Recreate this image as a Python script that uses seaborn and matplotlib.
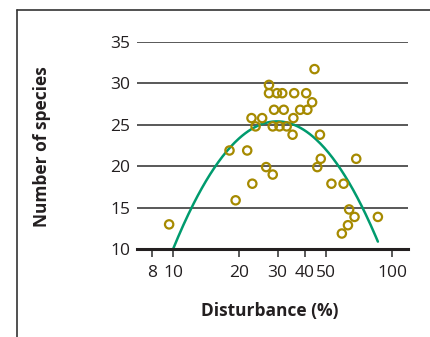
import numpy as np
import pandas as pd
import matplotlib
matplotlib.use("Agg")
import matplotlib.pyplot as plt
import seaborn as sns
from matplotlib.lines import Line2D

# ----------------------------------------------------------
# data
# ----------------------------------------------------------
disturbance = [9.6, 18.1, 19.3, 21.8, 22.8, 23.8, 23.0, 25.5, 26.6, 27.4,
               27.4, 28.5, 28.9, 28.5, 29.8, 30.6, 31.5, 32.0, 33.0, 35.1,
               35.4, 35.7, 38.0, 40.5, 41.0, 43.1, 44.2, 46.8, 45.5, 47.2,
               52.8, 60.0, 58.9, 62.8, 63.6, 67.3, 68.5, 86.0]
species = [13.0, 21.9, 15.9, 21.9, 25.8, 24.8, 17.9, 25.8, 19.9, 29.8,
           28.8, 19.0, 26.8, 24.8, 28.8, 24.8, 28.8, 26.8, 24.8, 23.8,
           25.8, 28.8, 26.8, 28.8, 26.8, 27.7, 31.7, 23.8, 19.9, 20.9,
           17.9, 17.9, 11.9, 12.9, 14.8, 13.9, 20.9, 13.9]

# quadratic fit in log10(disturbance): y = c2*L^2 + c1*L + c0
fit_coef = [-68.4, 201.70, -123.29]
fit_range = [10, 86]

x_ticks = [8, 10, 20, 30, 40, 50, 100]
y_ticks = [10, 15, 20, 25, 30, 35]

df = pd.DataFrame({"disturbance": disturbance, "species": species})
xc = np.logspace(np.log10(fit_range[0]), np.log10(fit_range[1]), 200)
yc = np.polyval(fit_coef, np.log10(xc))

# ----------------------------------------------------------
# figure
# ----------------------------------------------------------
sns.set_style("white")
plt.rcParams["font.family"] = ["Open Sans", "DejaVu Sans"]

fig = plt.figure(figsize=(4.30, 3.37), dpi=100)
ax = fig.add_axes([137/430, 1 - 249.3/337, (408-137)/430, (249.3-41.7)/337])

ax.set_xscale("log")
ax.set_xlim(6.85, 118)
ax.set_ylim(10, 35)

for yv in y_ticks[1:]:
    ax.axhline(yv, color="#2b2b2b", lw=1.1, zorder=0)

sns.lineplot(x=xc, y=yc, ax=ax, color="#009b6e", lw=1.8, zorder=2)
sns.scatterplot(data=df, x="disturbance", y="species", ax=ax,
                s=36, marker="o", facecolor="none",
                edgecolor="#a68a00", linewidth=1.6, zorder=3)
for c in ax.collections:
    c.set_facecolor("none")
    c.set_edgecolor("#a68a00")

ax.set_xticks(x_ticks)
ax.set_xticklabels([str(t) for t in x_ticks])
ax.xaxis.set_minor_locator(matplotlib.ticker.NullLocator())
ax.set_yticks(y_ticks)
ax.tick_params(axis="x", length=6, width=1.1, color="#2b2b2b",
               labelsize=12.5, pad=5, direction="out", bottom=True)
ax.tick_params(axis="y", length=0, labelsize=12.5, pad=5)
for lab in ax.get_xticklabels() + ax.get_yticklabels():
    lab.set_color("#231f20")

for s in ["top", "right", "left"]:
    ax.spines[s].set_visible(False)
ax.spines["bottom"].set_linewidth(2.2)
ax.spines["bottom"].set_color("#231f20")

ax.set_xlabel("")
ax.set_ylabel("")
fig.text(270/430, 1 - 311/337, "Disturbance (%)", ha="center", va="center",
         fontsize=12.5, fontweight="bold", color="#231f20")
fig.text(42/430, 1 - 147/337, "Number of species", ha="center", va="center",
         rotation=90, fontsize=12.5, fontweight="bold", color="#231f20")

# partial frame around the panel
fig.add_artist(Line2D([17/430, 17/430], [0, 1 - 10.3/337],
                      color="#333333", lw=1.2, transform=fig.transFigure))
fig.add_artist(Line2D([17/430, 1], [1 - 10.3/337, 1 - 10.3/337],
                      color="#333333", lw=1.2, transform=fig.transFigure))

fig.savefig("out.png", dpi=100)
plt.close()
